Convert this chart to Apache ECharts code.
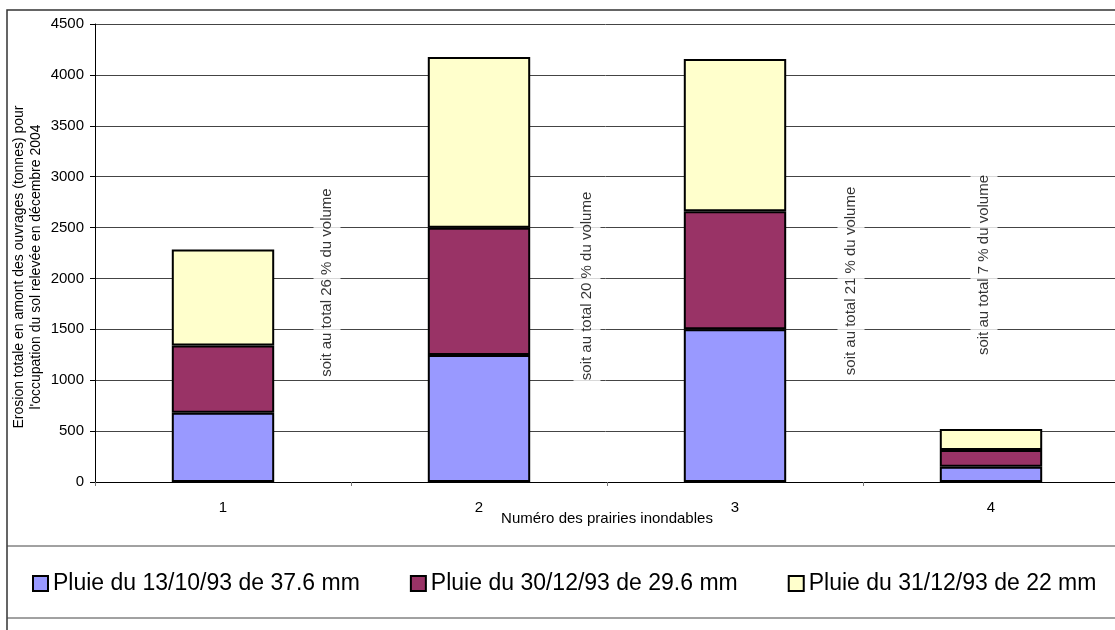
<!DOCTYPE html>
<html>
<head>
<meta charset="utf-8">
<script src="https://cdn.jsdelivr.net/npm/echarts@6/dist/echarts.min.js"></script>
<style>
  html, body { margin: 0; padding: 0; background: #fff; }
  #main { width: 1115px; height: 630px; }
</style>
</head>
<body>
<div id="main"></div>
<script>
// données
var prairies = ["1", "2", "3", "4"];
var pluie1 = [680, 1248, 1500, 150];   // 13/10/93
var pluie2 = [660, 1250, 1160, 165];   // 30/12/93
var pluie3 = [945, 1678, 1495, 205];   // 31/12/93
var noms = ["Pluie du 13/10/93 de 37.6 mm", "Pluie du 30/12/93 de 29.6 mm", "Pluie du 31/12/93 de 22 mm"];
var annotations = ["soit au total 26 % du volume", "soit au total 20 % du volume", "soit au total 21 % du volume", "soit au total 7 % du volume"];
var annotY = [1960, 1926, 1975, 2132];

var font = "Liberation Sans, Arial, sans-serif";
var offsets = [104, 108, 116, -7]; // décalage horizontal des textes (px)

var chart = echarts.init(document.getElementById("main"));

function barSerie(name, data, color) {
  return {
    name: name,
    type: "bar",
    stack: "total",
    data: data,
    barWidth: "40%",
    itemStyle: { color: color, borderColor: "#000", borderWidth: 2 },
    emphasis: { disabled: true }
  };
}

var option = {
  animation: false,
  textStyle: { fontFamily: font },
  grid: { left: 95, top: 24, bottom: 148, width: 1024, outerBoundsMode: "none", containLabel: false },
  xAxis: {
    type: "category",
    data: prairies,
    name: "Numéro des prairies inondables",
    nameLocation: "middle",
    nameGap: 29,
    nameMoveOverlap: false,
    nameTextStyle: { color: "#000", fontSize: 15, fontFamily: font },
    axisLine: { lineStyle: { color: "#000", width: 1 } },
    axisTick: { show: true, length: 4, lineStyle: { color: "#777" } },
    axisLabel: { color: "#000", fontSize: 15, margin: 18, fontFamily: font }
  },
  yAxis: {
    type: "value",
    min: 0,
    max: 4500,
    interval: 500,
    name: "Erosion totale en amont des ouvrages (tonnes) pour\nl'occupation du sol relevée en décembre 2004",
    nameLocation: "middle",
    nameGap: 50,
    nameMoveOverlap: false,
    nameTextStyle: { color: "#000", fontSize: 14, lineHeight: 17, fontFamily: font, padding: [0, 28, 0, 0] },
    axisLine: { show: true, lineStyle: { color: "#000", width: 1 } },
    axisTick: { show: true, length: 5, lineStyle: { color: "#000" } },
    axisLabel: {
      color: "#000", fontSize: 15, margin: 11, fontFamily: font,
      formatter: function (v) { return String(v); }
    },
    splitLine: { lineStyle: { color: "#444", width: 1 } }
  },
  legend: {
    data: noms,
    left: 32,
    top: 572,
    padding: 0,
    itemWidth: 15,
    itemHeight: 15,
    itemGap: 50,
    icon: "rect",
    itemStyle: { borderColor: "#000", borderWidth: 2 },
    textStyle: { color: "#000", fontSize: 23, fontFamily: font }
  },
  graphic: [
    { type: "polyline", silent: true, shape: { points: [[7, 630], [7, 10], [1115, 10]] }, style: { stroke: "#333", lineWidth: 1.5, fill: null } },
    { type: "line", silent: true, shape: { x1: 7, y1: 546, x2: 1115, y2: 546 }, style: { stroke: "#444", lineWidth: 1 } },
    { type: "line", silent: true, shape: { x1: 7, y1: 618, x2: 1115, y2: 618 }, style: { stroke: "#444", lineWidth: 1 } }
  ],
  series: [
    barSerie(noms[0], pluie1, "#9999FF"),
    barSerie(noms[1], pluie2, "#993366"),
    barSerie(noms[2], pluie3, "#FFFFCC"),
    {
      type: "scatter",
      symbolSize: 0,
      silent: true,
      z: 5,
      data: annotY.map(function (v, i) {
        return {
          value: [i, v],
          label: {
            show: true,
            formatter: annotations[i],
            rotate: 90,
            position: "inside",
            offset: [0, offsets[i]],
            color: "#000",
            fontSize: 15,
            fontFamily: font,
            backgroundColor: "#fff",
            padding: [6, 2]
          }
        };
      })
    }
  ]
};

chart.setOption(option);
</script>
</body>
</html>
